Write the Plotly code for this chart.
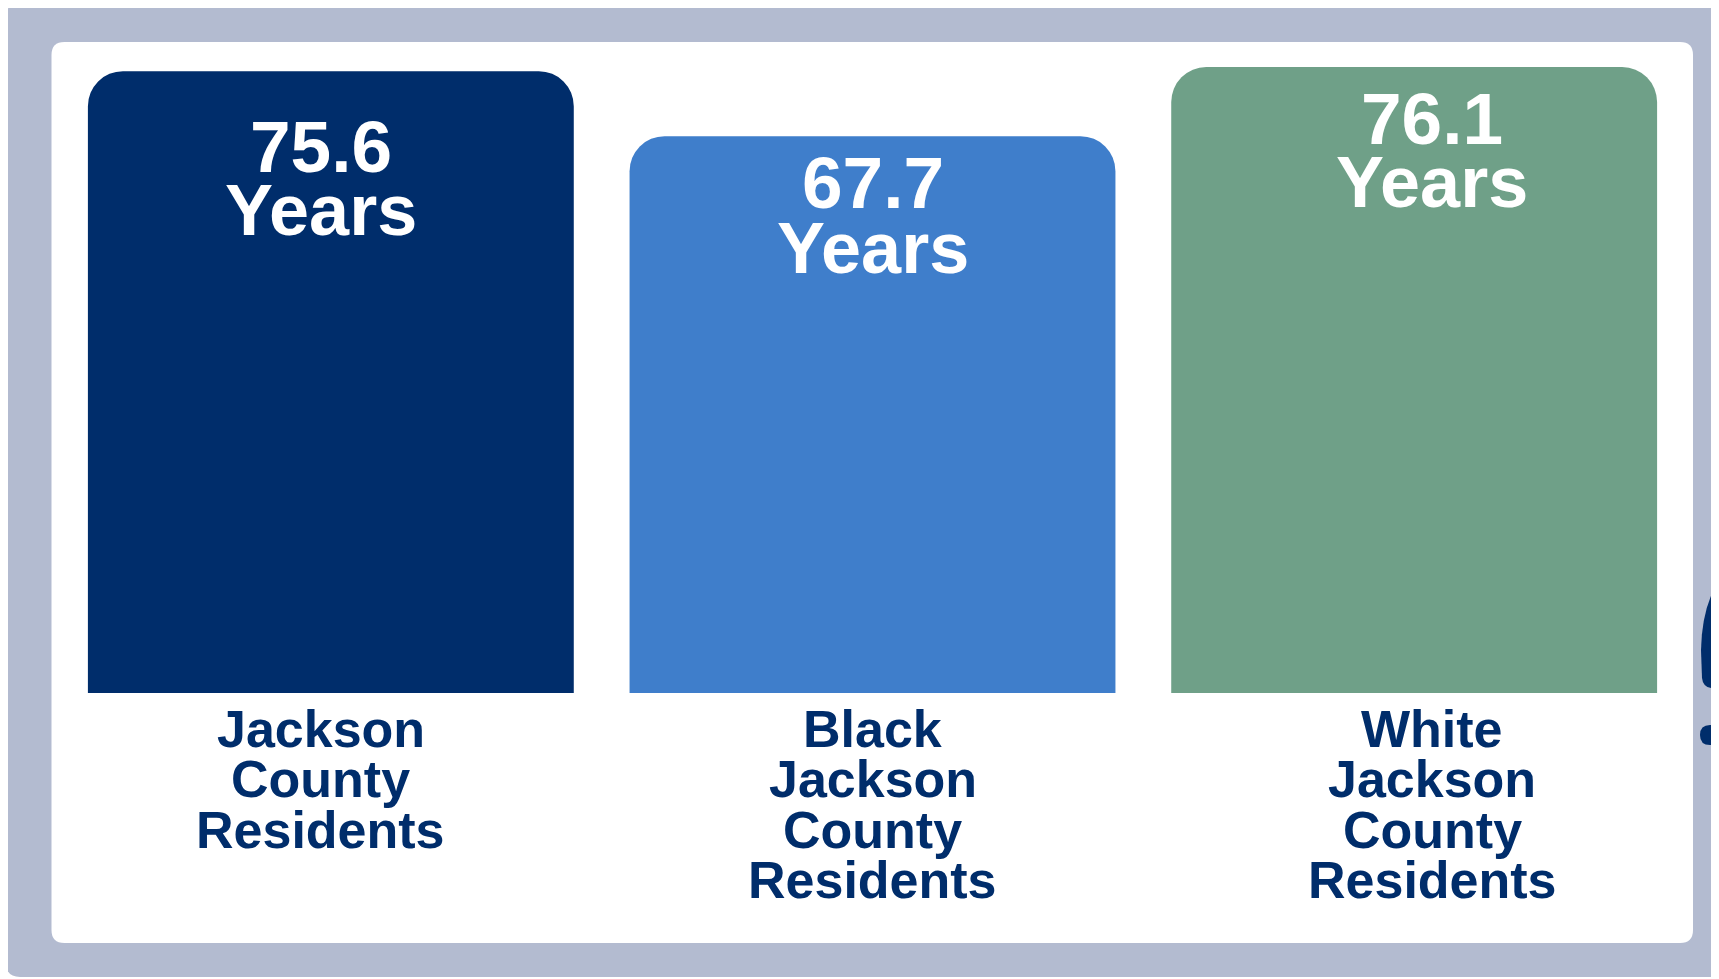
import plotly.graph_objects as go

# ---- data ----
categories = ["Jackson County Residents", "Black Jackson County Residents", "White Jackson County Residents"]
category_lines = [["Jackson", "County", "Residents"],
                  ["Black", "Jackson", "County", "Residents"],
                  ["White", "Jackson", "County", "Residents"]]
life_expectancy = [75.6, 67.7, 76.1]
value_unit = "Years"
bar_colors = ["#002D6B", "#3F7ECB", "#6FA088"]

# ---- layout constants (page pixels; the page body adds an 8px offset) ----
OFF = 8
W, H = 1711, 971
ML, MT = 52, 27
PW, PH = 1625, 658
MR, MB = W - ML - PW, H - MT - PH
NAVY = "#002D6B"
GRAY = "#B3BBD0"
FONT = "Liberation Sans"
BASE = OFF + MT + PH  # page y of the plot's bottom


def px(x):
    return (x - OFF - ML) / PW


def py(y):
    return (BASE - y) / PH


def path_from(pts):
    out = []
    for p in pts:
        cmd = p[0]
        coords = p[1:]
        s = []
        for i in range(0, len(coords), 2):
            s.append(f"{px(coords[i]):.5f},{py(coords[i+1]):.5f}")
        out.append(cmd + " " + " ".join(s))
    return " ".join(out)


def rrect(x0, y0, x1, y1, r):
    pts = [
        ("M", x0 + r, y0), ("L", x1 - r, y0), ("Q", x1, y0, x1, y0 + r),
        ("L", x1, y1 - r), ("Q", x1, y1, x1 - r, y1), ("L", x0 + r, y1),
        ("Q", x0, y1, x0, y1 - r), ("L", x0, y0 + r), ("Q", x0, y0, x0 + r, y0),
    ]
    return path_from(pts) + " Z"


fig = go.Figure()
fig.add_trace(go.Bar(
    x=categories, y=life_expectancy, marker=dict(color=bar_colors, line=dict(width=0)),
    hoverinfo="skip", showlegend=False,
))

shapes = [
    dict(type="path", xref="paper", yref="paper", layer="below",
         path=rrect(6, 3, 1760, 977, 14), fillcolor=GRAY, line=dict(width=0)),
    dict(type="path", xref="paper", yref="paper", layer="below",
         path=rrect(51.5, 42, 1693, 943, 13), fillcolor="white", line=dict(width=0)),
    # partial logo at the right edge
    dict(type="path", xref="paper", yref="paper", layer="above",
         path=path_from([("M", 1725, 572), ("Q", 1702, 600, 1701, 650), ("L", 1702, 678),
                         ("Q", 1703, 688, 1713, 688), ("L", 1725, 688)]) + " Z",
         fillcolor=NAVY, line=dict(width=0)),
    dict(type="path", xref="paper", yref="paper", layer="above",
         path=path_from([("M", 1725, 725), ("L", 1710, 725), ("Q", 1700, 725, 1700, 735),
                         ("Q", 1700, 745, 1710, 745), ("L", 1725, 745)]) + " Z",
         fillcolor=NAVY, line=dict(width=0)),
]

# value label offsets below bar top (px) and horizontal shifts for labels
num_offsets = [75, 46, 51]
unit_offsets = [139, 112, 115]
label_xshift = [-10, 0, 18]

annotations = []
for i, (c, v) in enumerate(zip(categories, life_expectancy)):
    annotations.append(dict(x=c, y=v, xref="x", yref="y", text=f"{v:.1f}", showarrow=False,
                            yanchor="middle", yshift=-num_offsets[i], xshift=label_xshift[i],
                            font=dict(family=FONT, size=73, color="white", weight="bold")))
    annotations.append(dict(x=c, y=v, xref="x", yref="y", text=value_unit, showarrow=False,
                            yanchor="middle", yshift=-unit_offsets[i], xshift=label_xshift[i],
                            font=dict(family=FONT, size=72, color="white", weight="bold")))
    for j, line in enumerate(category_lines[i]):
        cy = 729 + 50.4 * j
        annotations.append(dict(x=c, y=0, xref="x", yref="paper", text=line, showarrow=False,
                                yanchor="middle", yshift=-(cy - BASE), xshift=label_xshift[i],
                                font=dict(family=FONT, size=52, color=NAVY, weight="bold")))

fig.update_layout(
    width=W, height=H, margin=dict(l=ML, r=MR, t=MT, b=MB, pad=0),
    paper_bgcolor="white", plot_bgcolor="rgba(0,0,0,0)",
    bargap=0.103, barcornerradius=35,
    xaxis=dict(visible=False, range=[-0.5, 2.5]),
    yaxis=dict(visible=False, range=[0, 80]),
    shapes=shapes, annotations=annotations,
)

fig.write_html("out.html")
